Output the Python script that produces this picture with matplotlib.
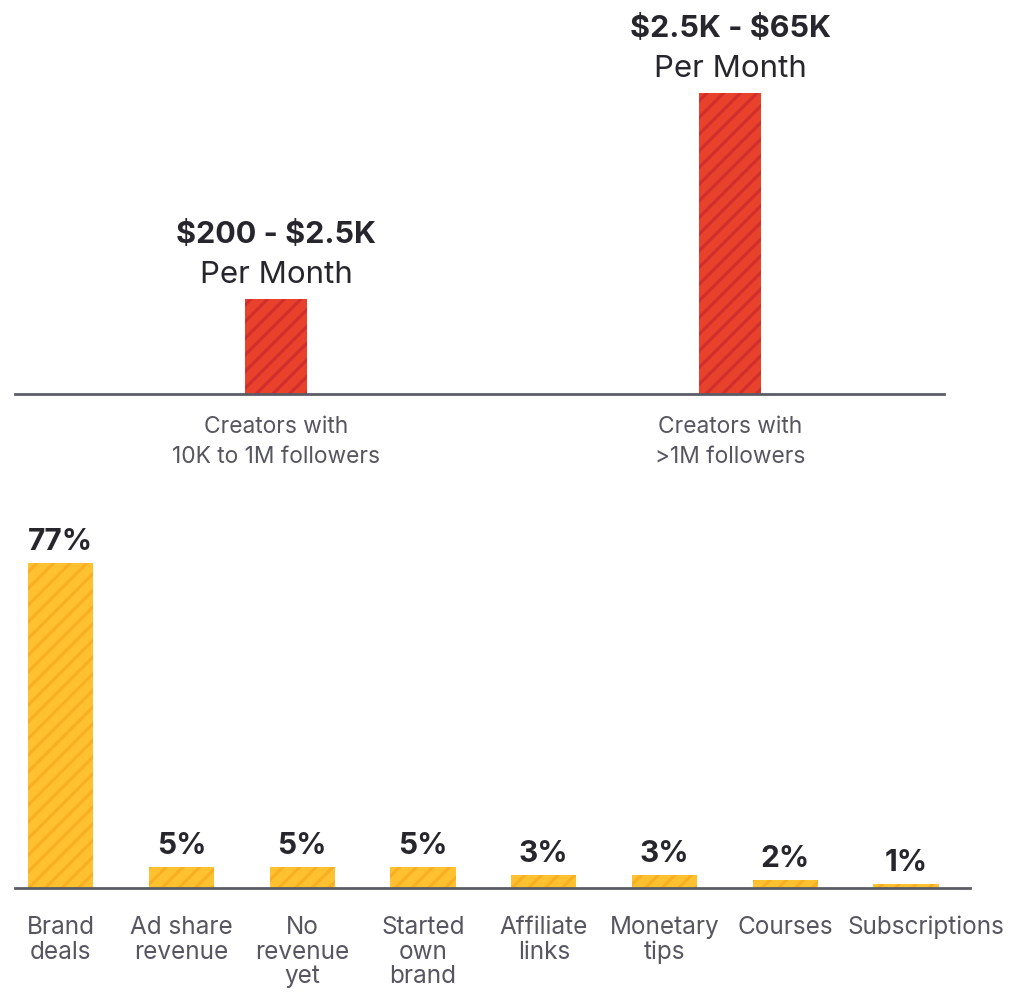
import matplotlib
matplotlib.use('Agg')
from matplotlib import pyplot as plt
from matplotlib.transforms import ScaledTranslation

# top chart: monthly earnings by creator size (bar heights)
tiers = ['Creators with\n10K to 1M followers', 'Creators with\n>1M followers']
tier_heights = [1.0, 3.17]
tier_ranges = ['\\$200 - \\$2.5K', '\\$2.5K - \\$65K']

# bottom chart: main revenue source
sources = ['Brand\ndeals', 'Ad share\nrevenue', 'No\nrevenue\nyet', 'Started\nown\nbrand',
           'Affiliate\nlinks', 'Monetary\ntips', 'Courses', 'Subscriptions']
shares = [77, 5, 5, 5, 3, 3, 2, 1]

plt.rcParams['font.family'] = ['Inter', 'DejaVu Sans']
plt.rcParams['hatch.linewidth'] = 2.2

red, red_hatch = '#E8412C', '#D22E2B'
yellow, yellow_hatch = '#FFC12F', '#F8AF22'
axis_grey = '#5B5C66'
label_grey = '#55565F'
dark = '#26262C'

fig = plt.figure(figsize=(10.26, 9.93), dpi=100)
W, H = 1026, 993

# top axes: baseline at y=394 px
ax1 = fig.add_axes([15 / W, (H - 394) / H, (944 - 15) / W, 394 / H])
ax1.bar(range(len(tiers)), tier_heights, width=0.137, color=red,
        edgecolor=red_hatch, hatch='//', linewidth=0)
ax1.set_xlim(-0.575, 1.471)
ax1.set_ylim(0, 3.17 * 394 / 301)
for i, (h, r) in enumerate(zip(tier_heights, tier_ranges)):
    ax1.annotate('Per Month', (i, h), xytext=(0, 7), textcoords='offset points',
                 ha='center', va='bottom', fontsize=22.5, color=dark)
    ax1.annotate(r, (i, h), xytext=(0, 36), textcoords='offset points',
                 ha='center', va='bottom', fontsize=22, fontweight='bold', color=dark)
ax1.set_xticks(range(len(tiers)))
ax1.set_xticklabels(tiers, fontsize=16.4, color=label_grey, linespacing=1.45)
ax1.tick_params(axis='x', length=0, pad=16)
ax1.set_yticks([])
for s in ['top', 'left', 'right']:
    ax1.spines[s].set_visible(False)
ax1.spines['bottom'].set_color(axis_grey)
ax1.spines['bottom'].set_linewidth(2)
ax1.patch.set_alpha(0)

# bottom axes: baseline at y=888 px
ax2 = fig.add_axes([15 / W, (H - 888) / H, (970 - 15) / W, 390 / H])
x = range(len(sources))
ax2.bar(x, shares, width=0.54, color=yellow, edgecolor=yellow_hatch, hatch='//', linewidth=0)
ax2.set_xlim(-0.38, 7.53)
ax2.set_ylim(0, 77 * 390 / 325)
for i, v in enumerate(shares):
    ax2.annotate(f'{v}%', (i, v), xytext=(0, 5), textcoords='offset points',
                 ha='center', va='bottom', fontsize=21.5, fontweight='bold', color=dark)
ax2.set_xticks(list(x))
ax2.set_xticklabels(sources, fontsize=17.5, color=label_grey, linespacing=1.1, va='top')
ax2.tick_params(axis='x', length=0, pad=20)
# the last label sits a little right of its bar, as in the original layout
last = ax2.get_xticklabels()[-1]
last.set_transform(last.get_transform() + ScaledTranslation(0.2, 0, fig.dpi_scale_trans))
ax2.set_yticks([])
for s in ['top', 'left', 'right']:
    ax2.spines[s].set_visible(False)
ax2.spines['bottom'].set_color(axis_grey)
ax2.spines['bottom'].set_linewidth(2)
ax2.patch.set_alpha(0)

fig.savefig('out.png', dpi=100)
